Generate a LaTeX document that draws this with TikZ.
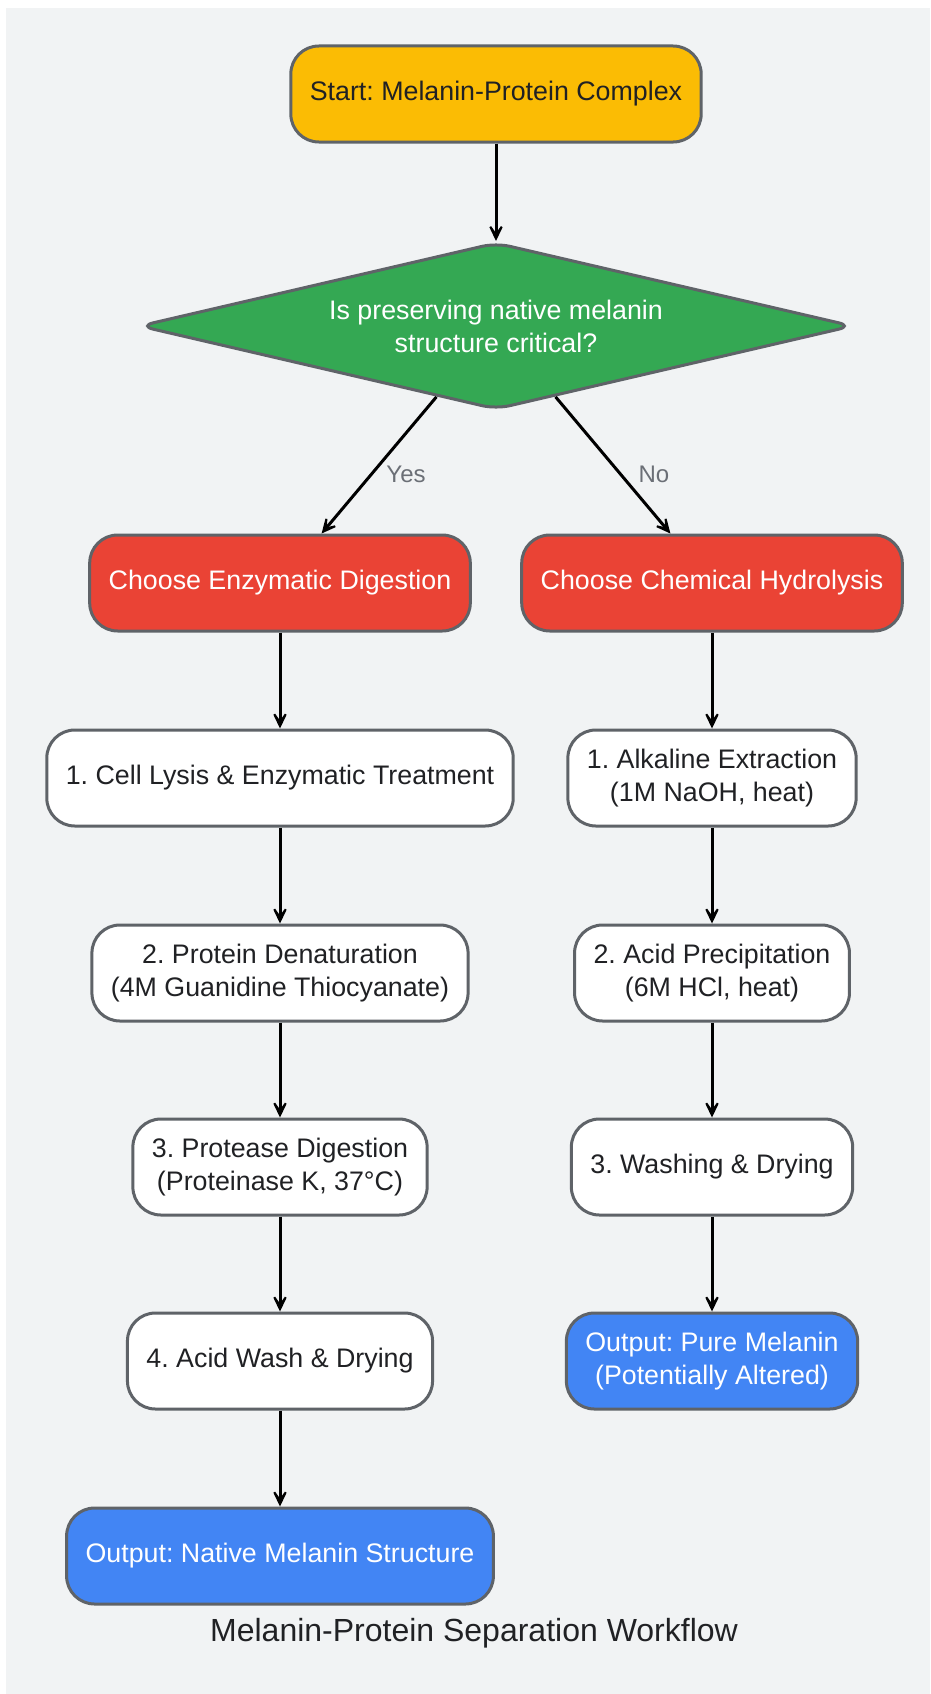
\documentclass[tikz,border=0pt]{standalone}
\usepackage{fontspec}
\setmainfont{Liberation Sans}
\usetikzlibrary{arrows.meta,shapes.geometric}
\frenchspacing

\definecolor{bgpanel}{HTML}{F1F3F4}
\definecolor{edgegray}{HTML}{5F6368}
\definecolor{startyellow}{HTML}{FBBC04}
\definecolor{decgreen}{HTML}{34A853}
\definecolor{choicered}{HTML}{EA4335}
\definecolor{outblue}{HTML}{4285F4}
\definecolor{textdark}{HTML}{202124}
\definecolor{labelgray}{HTML}{6B6F76}

\begin{document}
\begin{tikzpicture}[x=1pt, y=1pt,
    box/.style={rectangle, rounded corners=28pt, draw=edgegray, line width=3pt, fill=white,
        minimum height=96pt, inner xsep=19pt, align=center, text=textdark,
        font=\fontsize{26.8}{33}\selectfont},
    startbox/.style={box, fill=startyellow},
    choice/.style={box, fill=choicered, text=white},
    outbox/.style={box, fill=outblue, text=white},
    decision/.style={diamond, shape aspect=4.3, draw=edgegray, line width=3pt, fill=decgreen,
        text=white, minimum width=714pt, minimum height=167pt, inner sep=0pt,
        rounded corners=14pt, align=center, font=\fontsize{26.8}{33}\selectfont},
    flow/.style={-{Stealth[length=24pt, width=23pt, inset=16pt]}, line width=3pt},
    lab/.style={font=\fontsize{24}{28}\selectfont, text=labelgray, inner sep=0pt}]
% canvas and background panel
    \useasboundingbox (0,0) rectangle (930,-1694);
    \fill[bgpanel] (6,-8) rectangle (930,-1694);

    \node[startbox] (start) at (496,-94) {Start: Melanin-Protein Complex};
    \node[decision] (dec) at (496,-326) {Is preserving native melanin\\structure critical?};

    % left branch
    \node[choice] (enz) at (280,-583) {Choose Enzymatic Digestion};
    \node[box] (lysis) at (280,-778) {1. Cell Lysis \& Enzymatic Treatment};
    \node[box] (denat) at (280,-973) {2. Protein Denaturation\\(4M Guanidine Thiocyanate)};
    \node[box] (prot) at (280,-1167) {3. Protease Digestion\\(Proteinase K, 37°C)};
    \node[box] (acidwash) at (280,-1361) {4. Acid Wash \& Drying};
    \node[outbox] (native) at (280,-1556) {Output: Native Melanin Structure};

    % right branch
    \node[choice] (chem) at (712,-583) {Choose Chemical Hydrolysis};
    \node[box] (alk) at (712,-778) {1. Alkaline Extraction\\(1M NaOH, heat)};
    \node[box] (acid) at (712,-973) {2. Acid Precipitation\\(6M HCl, heat)};
    \node[box] (wash) at (712,-1167) {3. Washing \& Drying};
    \node[outbox] (pure) at (712,-1361) {Output: Pure Melanin\\(Potentially Altered)};

    \node[font=\fontsize{32}{38}\selectfont, text=textdark] (title) at (474,-1633) {Melanin-Protein Separation Workflow};

    % connectors
    \draw[flow] (start) -- (dec);
    \draw[flow] (dec) -- (enz) node[lab, pos=0.57, right=14pt] {Yes};
    \draw[flow] (dec) -- (chem) node[lab, pos=0.57, right=16pt] {No};
    \draw[flow] (enz) -- (lysis);
    \draw[flow] (lysis) -- (denat);
    \draw[flow] (denat) -- (prot);
    \draw[flow] (prot) -- (acidwash);
    \draw[flow] (acidwash) -- (native);
    \draw[flow] (chem) -- (alk);
    \draw[flow] (alk) -- (acid);
    \draw[flow] (acid) -- (wash);
    \draw[flow] (wash) -- (pure);
\end{tikzpicture}
\end{document}
